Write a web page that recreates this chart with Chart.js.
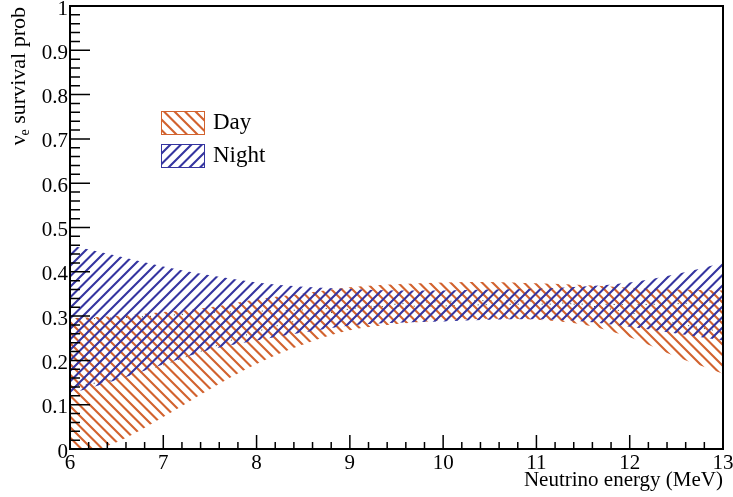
<!DOCTYPE html>
<html>
<head>
<meta charset="utf-8">
<script src="https://cdn.jsdelivr.net/npm/chart.js@4.4.0/dist/chart.umd.min.js"></script>
<style>
  html, body { margin: 0; padding: 0; background: #fff; }
  canvas { display: block; }
</style>
</head>
<body>
<canvas id="chart" width="733" height="497"></canvas>
<script>
// values
const energy       = [6, 6.5, 7, 7.5, 8, 8.5, 9, 9.5, 10, 10.5, 11, 11.5, 12, 12.5, 13];
const dayUpper     = [0.295, 0.300, 0.309, 0.320, 0.338, 0.351, 0.365, 0.372, 0.376, 0.377, 0.374, 0.370, 0.364, 0.360, 0.358];
const dayLower     = [-0.020, 0.015, 0.072, 0.135, 0.192, 0.236, 0.268, 0.282, 0.290, 0.294, 0.292, 0.281, 0.252, 0.208, 0.170];
const dayCentral   = [0.140, 0.158, 0.190, 0.228, 0.265, 0.293, 0.316, 0.327, 0.333, 0.335, 0.333, 0.325, 0.308, 0.284, 0.264];
const nightUpper   = [0.460, 0.436, 0.412, 0.392, 0.376, 0.366, 0.361, 0.358, 0.358, 0.360, 0.362, 0.367, 0.376, 0.395, 0.420];
const nightLower   = [0.125, 0.156, 0.191, 0.224, 0.245, 0.263, 0.279, 0.285, 0.288, 0.292, 0.293, 0.288, 0.276, 0.261, 0.245];
const nightCentral = [0.293, 0.296, 0.301, 0.308, 0.311, 0.314, 0.320, 0.322, 0.323, 0.326, 0.327, 0.327, 0.326, 0.328, 0.333];

const xTickValues = [6, 7, 8, 9, 10, 11, 12, 13];
const xTickLabels = ['6', '7', '8', '9', '10', '11', '12', '13'];
const yTickValues = [0, 0.1, 0.2, 0.3, 0.4, 0.5, 0.6, 0.7, 0.8, 0.9, 1];
const yTickLabels = ['0', '0.1', '0.2', '0.3', '0.4', '0.5', '0.6', '0.7', '0.8', '0.9', '1'];

const dayColor = '#d2622e';
const nightColor = '#3535a0';
const serif = 'Liberation Serif';

const canvas = document.getElementById('chart');
const ctx = canvas.getContext('2d');

// hatch tiles: "\\\" for day, "///" for night, spacing 10.5px
function hatch(color, forward) {
  const t = document.createElement('canvas');
  t.width = 21; t.height = 21;
  const c = t.getContext('2d');
  c.strokeStyle = color;
  c.lineWidth = 2.1;
  c.beginPath();
  for (let k = -2; k <= 4; k++) {
    const o = k * 10.5;
    if (forward) { c.moveTo(o + 2, -2); c.lineTo(o - 23, 23); }
    else { c.moveTo(o - 2, -2); c.lineTo(o + 23, 23); }
  }
  c.stroke();
  return ctx.createPattern(t, 'repeat');
}
const dayHatch = hatch(dayColor, false);
const nightHatch = hatch(nightColor, true);

const pts = arr => energy.map((e, i) => ({ x: e, y: arr[i] }));

const legendItems = [
  { label: 'Day', fill: dayHatch, color: dayColor },
  { label: 'Night', fill: nightHatch, color: nightColor }
];

// ROOT-like frame, inside ticks, y title and legend
const rootFrame = {
  id: 'rootFrame',
  afterDraw(chart) {
    const { ctx, chartArea: a, scales: { x, y } } = chart;
    ctx.save();
    ctx.strokeStyle = '#000';
    ctx.lineWidth = 1.5;
    ctx.beginPath();
    for (let i = 0; i <= 50; i++) {
      const py = y.getPixelForValue(i / 50);
      const len = i % 5 === 0 ? 20 : 10;
      ctx.moveTo(a.left, py); ctx.lineTo(a.left + len, py);
    }
    for (let i = 0; i <= 35; i++) {
      const px = x.getPixelForValue(6 + i / 5);
      const len = i % 5 === 0 ? 14 : 7;
      ctx.moveTo(px, a.bottom); ctx.lineTo(px, a.bottom - len);
    }
    ctx.stroke();
    ctx.lineWidth = 2;
    ctx.strokeRect(a.left, a.top, a.right - a.left, a.bottom - a.top);

    // y title with subscript
    ctx.fillStyle = '#000';
    ctx.textBaseline = 'alphabetic';
    ctx.textAlign = 'left';
    const big = '22px "' + serif + '"', small = '14px "' + serif + '"';
    ctx.save();
    ctx.translate(25, a.top + 1);
    ctx.rotate(-Math.PI / 2);
    ctx.font = big;
    const w1 = ctx.measureText('ν').width;
    const w3 = ctx.measureText(' survival prob').width;
    ctx.font = small;
    const w2 = ctx.measureText('e').width;
    let u = -(w1 + w2 + w3);
    ctx.font = big; ctx.fillText('ν', u, 0); u += w1;
    ctx.font = small; ctx.fillText('e', u, 4); u += w2;
    ctx.font = big; ctx.fillText(' survival prob', u, 0);
    ctx.restore();

    // legend
    ctx.font = '23px "' + serif + '"';
    legendItems.forEach((it, i) => {
      const bx = 161, by = 111 + i * 33;
      ctx.fillStyle = it.fill;
      ctx.fillRect(bx, by, 43, 23);
      ctx.strokeStyle = it.color;
      ctx.lineWidth = 1;
      ctx.strokeRect(bx + 0.5, by + 0.5, 43, 23);
      ctx.fillStyle = '#000';
      ctx.fillText(it.label, 213, by + 18);
    });
    ctx.restore();
  }
};

const band = { pointRadius: 0, borderWidth: 0, borderColor: 'rgba(0,0,0,0)' };
const centre = { pointRadius: 0, borderWidth: 1, borderColor: 'rgba(0,0,0,0.8)', borderDash: [1, 7], fill: false };

new Chart(ctx, {
  type: 'line',
  data: {
    datasets: [
      { ...band, label: 'Night', data: pts(nightUpper), fill: '+1', backgroundColor: nightHatch },
      { ...band, label: 'Night low', data: pts(nightLower), fill: false },
      { ...band, label: 'Day', data: pts(dayUpper), fill: '+1', backgroundColor: dayHatch },
      { ...band, label: 'Day low', data: pts(dayLower), fill: false },
      { ...centre, label: 'Night central', data: pts(nightCentral) },
      { ...centre, label: 'Day central', data: pts(dayCentral) }
    ]
  },
  options: {
    responsive: false,
    animation: false,
    layout: { padding: { top: 6, right: 10, left: 0, bottom: 0 } },
    elements: { line: { tension: 0.35, cubicInterpolationMode: 'monotone' } },
    plugins: { legend: { display: false }, tooltip: { enabled: false } },
    scales: {
      x: {
        type: 'linear', min: 6, max: 13,
        afterBuildTicks: s => { s.ticks = xTickValues.map(v => ({ value: v })); },
        afterFit: s => { s.height = 48; s.paddingLeft = 0; s.paddingRight = 0; },
        grid: { display: false, drawTicks: false },
        border: { display: false },
        ticks: {
          padding: 2, autoSkip: false, maxRotation: 0, color: '#000',
          font: { family: serif, size: 21 },
          callback: (v, i) => xTickLabels[i]
        },
        title: {
          display: true, text: 'Neutrino energy (MeV)', align: 'end', color: '#000',
          font: { family: serif, size: 21 }, padding: { top: 0, bottom: 4 }
        }
      },
      y: {
        type: 'linear', min: 0, max: 1,
        afterBuildTicks: s => { s.ticks = yTickValues.map(v => ({ value: v })); },
        afterFit: s => { s.width = 70; s.paddingTop = 0; s.paddingBottom = 0; },
        grid: { display: false, drawTicks: false },
        border: { display: false },
        ticks: {
          padding: 2, autoSkip: false, labelOffset: 3, color: '#000',
          font: { family: serif, size: 21 },
          callback: (v, i) => yTickLabels[i]
        }
      }
    }
  },
  plugins: [rootFrame]
});
</script>
</body>
</html>
